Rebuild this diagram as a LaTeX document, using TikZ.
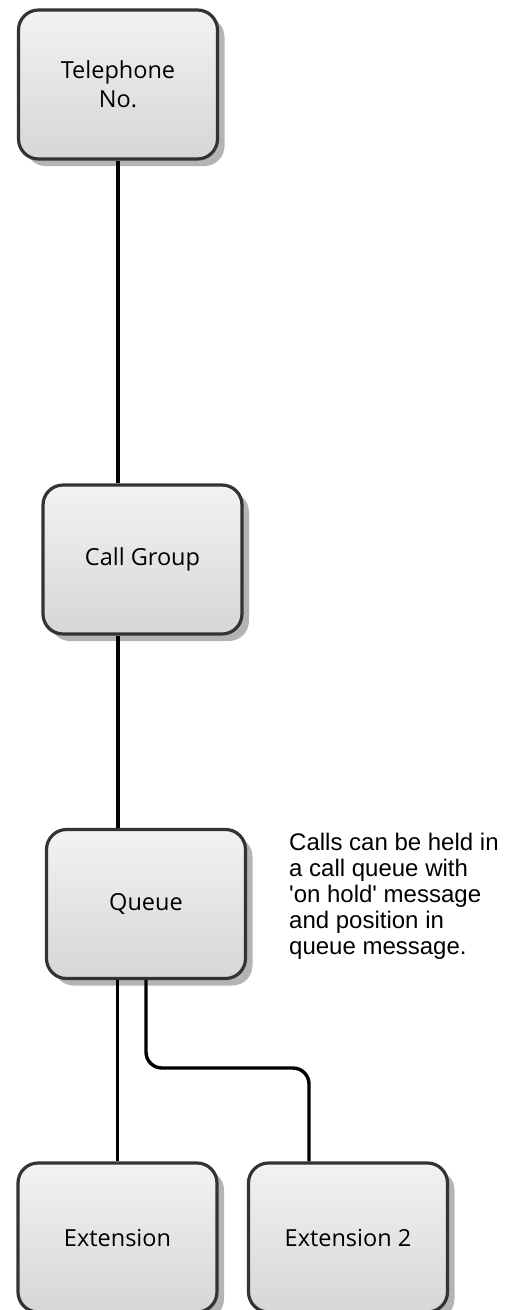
\documentclass[tikz,border=0pt]{standalone}
\usepackage{fontspec}
\setmainfont{Liberation Sans}
\newfontfamily\boxfont{Open Sans}
\usetikzlibrary{shadows}
\definecolor{boxline}{HTML}{333333}
\definecolor{boxshade}{HTML}{B4B4B4}
\begin{document}
\begin{tikzpicture}[x=1pt, y=-1pt,
    unit/.style={draw=boxline, line width=3.2pt, rounded corners=20pt,
        top color=black!5, bottom color=black!16,
        drop shadow={shadow xshift=7pt, shadow yshift=-7pt, fill=boxshade, opacity=1},
        minimum width=199pt, minimum height=149pt, align=center,
        font=\boxfont\fontsize{23.5}{29}\selectfont},
    wire/.style={line width=3.4pt, black}]
\useasboundingbox (0,0) rectangle (518,1310);
\node[unit] (tel) at (118, 84.5) {Telephone\\No.}; % Telephone.No
\node[unit] (group) at (142.5, 559.5) {Call Group}; % CallGroup
\node[unit] (queue) at (146, 904) {Queue}; % Queue
\node[unit] (ext) at (117.5, 1237.5) {Extension}; % Extension.1
\node[unit] (exttwo) at (348, 1237.5) {Extension 2}; % Extension.2
\node[anchor=north west, inner sep=0pt, align=left,
    font=\fontsize{24}{26}\selectfont] (note) at (289, 833)
    {Calls can be held in\\a call queue with\\\textquotesingle on hold\textquotesingle{} message\\and position in\\queue message.}; % note
\coordinate (bend) at (309, 1068); % turn to Extension.2
\draw[wire] (tel.south) -- (tel.south |- group.north) ; % tel2group
\draw[wire] (group.south -| tel.south) -- (queue.north -| tel.south) ; % group2queue
\draw[wire] (ext.north |- queue.south) -- (ext.north) ; % queue2ext
\draw[wire, rounded corners=16pt] (queue.south) |- (bend) -- (bend |- exttwo.north) ; % queue2exttwo
\end{tikzpicture}
\end{document}
